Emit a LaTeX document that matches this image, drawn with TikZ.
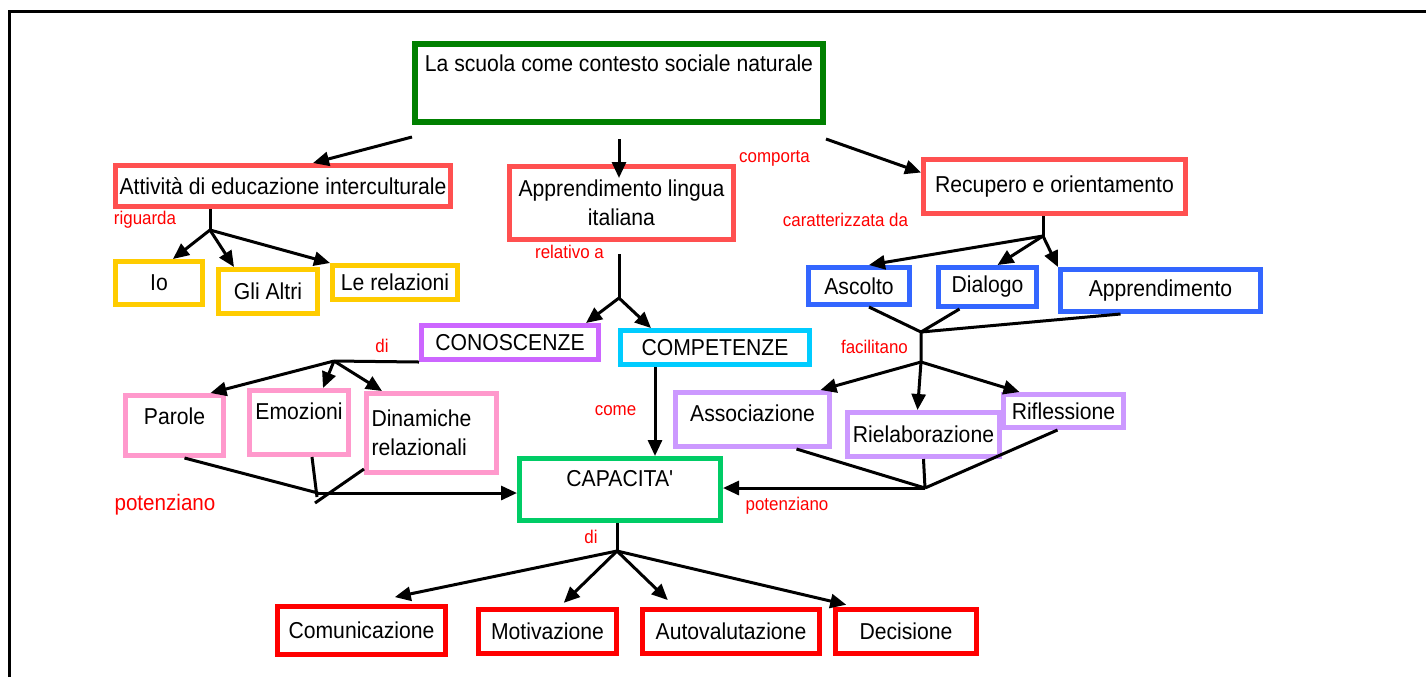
\documentclass[tikz,border=0pt]{standalone}
\usepackage{fontspec}
\setmainfont{Liberation Sans}
\newfontfamily\narrow[FakeStretch=0.92]{Liberation Sans}
\usepackage{tikz}
\usetikzlibrary{arrows.meta}
\definecolor{verdescuro}{HTML}{008000}
\definecolor{rosso}{HTML}{FF5050}
\definecolor{giallo}{HTML}{FFCC00}
\definecolor{blu}{HTML}{3366FF}
\definecolor{viola}{HTML}{CC66FF}
\definecolor{ciano}{HTML}{00CCFF}
\definecolor{rosa}{HTML}{FF99CC}
\definecolor{verde}{HTML}{00CC66}
\definecolor{lilla}{HTML}{CC99FF}
\definecolor{rossovivo}{HTML}{FF0000}

\begin{document}
\begin{tikzpicture}
        [x=0.5pt,y=-0.5pt,
         box/.style={draw,line width=2.5pt,inner sep=0pt,align=center,
           font=\narrow\fontsize{11.5pt}{14.5pt}\selectfont},
         up/.style={text height=8.5pt,text depth=#1},
         lab/.style={text=rossovivo,inner sep=0pt,font=\narrow\fontsize{9.2pt}{11pt}\selectfont},
         arr/.style={line width=1.5pt,-{Triangle[length=8pt,width=7pt]}},
         ln/.style={line width=1.5pt}]
        \useasboundingbox (0,0) rectangle (1426,677);
        \draw[line width=1.5pt] (9,677) -- (9,11) -- (1426,11);

        \node[box,draw=verdescuro,line width=3pt,minimum width=204pt,minimum height=39pt,up=20.3pt] (top) at (619,83) {La scuola come contesto sociale naturale};
        \node[box,draw=rosso,minimum width=167.5pt,minimum height=20.5pt] (att) at (283,186) {Attività di educazione interculturale};
        \node[box,draw=rosso,minimum width=112pt,minimum height=36.5pt] (app) at (621.5,203) {Apprendimento lingua\\italiana};
        \node[box,draw=rosso,minimum width=131pt,minimum height=27pt] (rec) at (1054.5,186.5) {Recupero e orientamento};

        \node[box,draw=giallo,minimum width=43.5pt,minimum height=21.5pt] (io) at (159,283) {Io};
        \node[box,draw=giallo,minimum width=49.5pt,minimum height=22pt] (gli) at (268,291.5) {Gli Altri};
        \node[box,draw=giallo,minimum width=62.5pt,minimum height=17pt] (rel) at (395,282.5) {Le relazioni};

        \node[box,draw=blu,minimum width=50.5pt,minimum height=18.5pt] (asc) at (859,286) {Ascolto};
        \node[box,draw=blu,minimum width=49pt,minimum height=19.5pt] (dia) at (987.5,287) {Dialogo};
        \node[box,draw=blu,minimum width=100pt,minimum height=21pt] (appr) at (1160.5,290.5) {Apprendimento};

        \node[box,draw=viola,minimum width=88.5pt,minimum height=17pt] (con) at (510,342.5) {CONOSCENZE};
        \node[box,draw=ciano,minimum width=94.5pt,minimum height=17pt] (comp) at (715,347.5) {COMPETENZE};

        \node[box,draw=rosa,minimum width=49pt,minimum height=30pt,up=9.8pt] (par) at (174.5,425.5) {Parole};
        \node[box,draw=rosa,minimum width=49.5pt,minimum height=32pt,up=11.8pt] (emo) at (299,422.5) {Emozioni};
        \node[box,draw=rosa,minimum width=65pt,minimum height=39.5pt,text width=60pt,align=left] (din) at (431.5,433) {Dinamiche\\relazionali};

        \node[box,draw=verde,minimum width=100.5pt,minimum height=31pt,up=11.8pt] (cap) at (620,489.5) {CAPACITA\textquotesingle};

        \node[box,draw=lilla,minimum width=77pt,minimum height=27pt,up=6.8pt] (ass) at (752.5,419.5) {Associazione};
        \node[box,draw=lilla,minimum width=76pt,minimum height=22pt] (rie) at (923.5,434.5) {Rielaborazione};
        \node[box,draw=lilla,minimum width=60pt,minimum height=16.5pt] (rif) at (1063.5,411) {Riflessione};

        \node[box,draw=rossovivo,minimum width=84pt,minimum height=24pt] (comu) at (361.5,630.5) {Comunicazione};
        \node[box,draw=rossovivo,minimum width=69pt,minimum height=22pt] (mot) at (547.5,631.5) {Motivazione};
        \node[box,draw=rossovivo,minimum width=88.5pt,minimum height=22pt] (aut) at (731,631.5) {Autovalutazione};
        \node[box,draw=rossovivo,minimum width=70.5pt,minimum height=22pt] (dec) at (906,631.5) {Decisione};

        % etichette
        \node[lab] (lriguarda) at (145,220) {riguarda};
        \node[lab] (lrelativo) at (569.5,252) {relativo a};
        \node[lab] (lcomporta) at (774.5,158) {comporta};
        \node[lab] (lcaratt) at (845.5,220) {caratterizzata da};
        \node[lab] (ldi) at (382,346) {di};
        \node[lab] (lfacil) at (874.5,347) {facilitano};
        \node[lab] (lcome) at (615.5,411) {come};
        \node[lab] (lpotdx) at (787,506) {potenziano};
        \node[lab] (ldicap) at (591,537) {di};
        \node[lab,font=\narrow\fontsize{11.2pt}{13pt}\selectfont] (lpotsx) at (165,505) {potenziano};

        \coordinate (ja) at (210,230);
        \coordinate (jb) at (619,298);
        \coordinate (jc) at (1043,236);
        \coordinate (jd) at (921,332);
        \coordinate (je) at (921,362);
        \coordinate (jf) at (925,488);
        \coordinate (jcon) at (334,361);
        \coordinate (jg) at (318,493);
        \coordinate (jh) at (315,503);
        \coordinate (ji) at (317,497);
        \coordinate (jk) at (617,551);

        \draw[arr] ([yshift=-6pt]top.south west) -- ([xshift=15pt]att.north);
        \draw[arr] ([yshift=-7pt]top.south) -- ([yshift=-7pt]top.south |- app.north);
        \draw[arr] ([yshift=-7pt]top.south east) -- ([yshift=7pt]rec.west);

        \draw[ln] (att.south -| ja) -- (ja);
        \path[arr] (ja) edge ([xshift=7pt]io.north)
        (ja) edge ([xshift=-17pt]gli.north)
        (ja) edge (rel.north west);

        \draw[ln] ([yshift=-6pt]app.south -| jb) -- (jb);
        \path[arr] (jb) edge ([xshift=38pt]con.north)
        (jb) edge ([xshift=-32pt]comp.north);

        \draw[ln] (rec.south -| jc) -- (jc);
        \path[arr] (jc) edge ([xshift=5pt]asc.north)
        (jc) edge ([xshift=5pt]dia.north)
        (jc) edge (appr.north west);

        \draw[ln] ([xshift=5pt]asc.south) -- (jd) ([xshift=-14pt]dia.south) -- (jd)
        ([xshift=-20pt]appr.south) -- (jd) (jd) -- (je);
        \path[arr] (je) edge ([xshift=34pt]ass.north)
        (je) edge ([xshift=-3pt]rie.north)
        (je) edge ([xshift=-22pt]rif.north);

        \draw[ln] ([xshift=22pt]ass.south) -- (jf) (rie.south) -- (jf) ([xshift=-3pt]rif.south) -- (jf);
        \draw[arr] (jf) -- (jf -| cap.east);

        \draw[arr] ([xshift=-30pt]comp.south) -- ([xshift=-30pt]comp.south |- cap.north);

        \draw[ln] (con.south west) -- (jcon);
        \path[arr] (jcon) edge ([xshift=18pt]par.north)
        (jcon) edge ([xshift=12pt]emo.north)
        (jcon) edge ([xshift=9pt]din.north west);
        \draw[ln] ([xshift=5pt]par.south) -- (jg) ([xshift=6.5pt]emo.south) -- (ji)
        ([yshift=3pt]din.south west) -- (jh);
        \draw[arr] (jg) -- (jg -| cap.west);

        \draw[ln] (cap.south -| jk) -- (jk);
        \path[arr] (jk) edge[shorten >=17pt] (comu.north)
        (jk) edge[shorten >=3pt] ([xshift=6pt]mot.north)
        (jk) edge[shorten >=5pt] ([xshift=-28pt]aut.north)
        (jk) edge[shorten >=5pt] ([xshift=-25pt]dec.north);
       \end{tikzpicture}
\end{document}
